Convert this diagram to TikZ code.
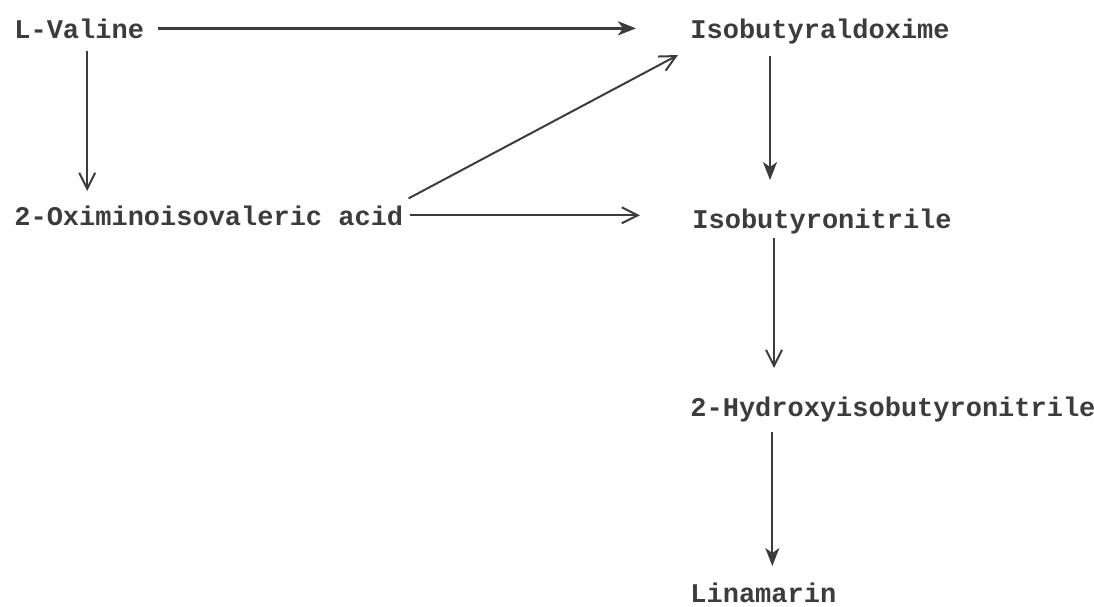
\documentclass[tikz,border=0pt]{standalone}
\usepackage{fontspec}
\setmonofont{Liberation Mono}
\usetikzlibrary{arrows.meta}
\definecolor{ink}{HTML}{3C3C3C}
\begin{document}
\begin{tikzpicture}[x=0.5pt,y=-0.5pt,
  chem/.style={anchor=base west,inner sep=0pt,text=ink,font=\fontsize{13.5pt}{16pt}\ttfamily\bfseries},
  barb/.style={draw=ink,line width=1pt,-{Straight Barb[length=8pt,width=8pt,line width=1pt]}},
  fill arrow/.style={draw=ink,line width=1.2pt,-{Stealth[length=9pt,width=7pt,inset=2.5pt]}}]
\useasboundingbox (0,0) rectangle (1094,606);
\node[chem] (lv)  at (14,38)   {L-Valine};
\node[chem] (ald) at (690,38)  {Isobutyraldoxime};
\node[chem] (oxa) at (14,225)  {2-Oximinoisovaleric acid};
\node[chem] (nit) at (692,228) {Isobutyronitrile};
\node[chem] (hyd) at (690,416) {2-Hydroxyisobutyronitrile};
\node[chem] (lin) at (690,602) {Linamarin};
% L-Valine -> Isobutyraldoxime
\draw[fill arrow,line width=1.4pt,shorten <=7pt,shorten >=27pt] (lv.east) -- (lv.east -| ald.west);
% L-Valine -> 2-Oximinoisovaleric acid
\draw[barb,shorten <=6pt,shorten >=7pt] ([xshift=4pt]lv.south) -- ([xshift=4pt]lv.south |- oxa.north);
% 2-Oximino -> Isobutyraldoxime
\draw[barb] ([shift={(5,-17)}]oxa.east) -- ([shift={(-12,24)}]ald.west);
% 2-Oximino -> Isobutyronitrile
\draw[barb,shorten <=3pt,shorten >=26pt] (oxa.east) -- (oxa.east -| nit.west);
% Isobutyraldoxime -> Isobutyronitrile
\draw[fill arrow,shorten <=6pt,shorten >=14pt] ([xshift=-25pt]ald.south) -- ([xshift=-25pt]ald.south |- nit.north);
% Isobutyronitrile -> 2-Hydroxy
\draw[barb,shorten <=2pt,shorten >=14pt] ([xshift=-24pt]nit.south) -- ([xshift=-24pt]nit.south |- hyd.north);
% 2-Hydroxy -> Linamarin
\draw[fill arrow,line width=1pt,shorten <=5pt,shorten >=8pt] ([xshift=4.5pt]lin.north |- hyd.south) -- ([xshift=4.5pt]lin.north);
\end{tikzpicture}
\end{document}
